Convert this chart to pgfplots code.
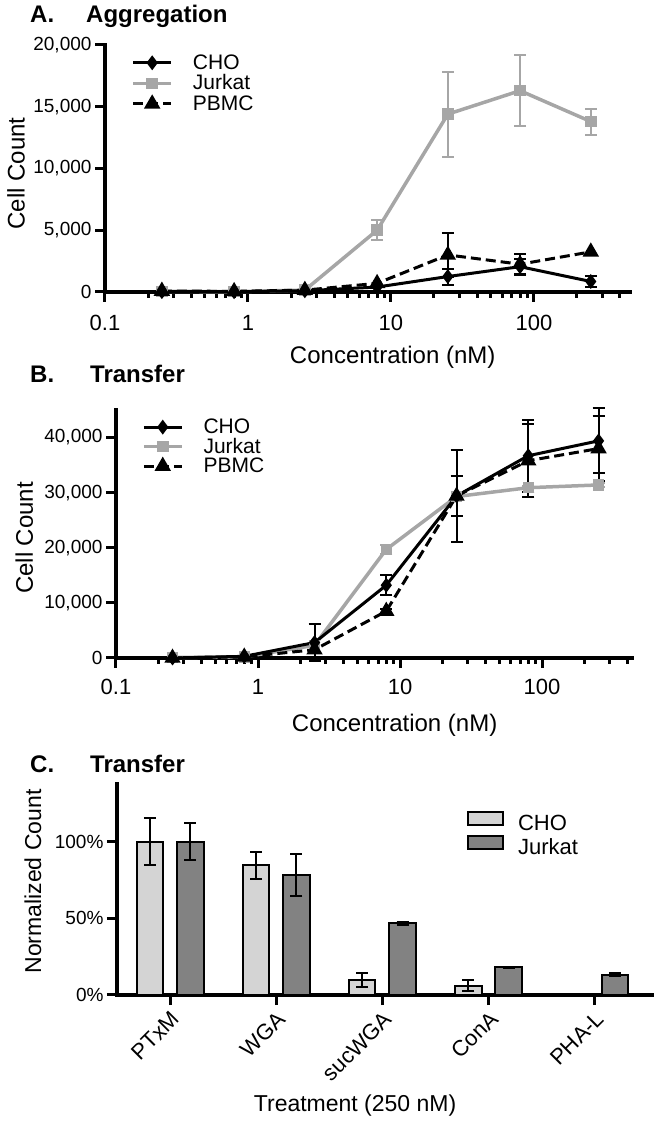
\documentclass[border=0pt]{standalone}
\usepackage{fontspec}
\setmainfont{Liberation Sans}
\usepackage{pgfplots}
\pgfplotsset{compat=1.18}
\definecolor{jgray}{HTML}{A6A6A6}
\definecolor{lgray}{HTML}{D4D4D4}
\definecolor{dgray}{HTML}{828282}

\pgfplotsset{
  cho/.style={black, line width=3pt, mark=diamond*, mark size=5pt, mark options={solid}},
  jur/.style={jgray, line width=3.5pt, mark=square*, mark size=4pt, mark options={solid}},
  pbmc/.style={black, line width=3pt, dash pattern=on 10pt off 5pt, mark=triangle*, mark size=6.5pt, mark options={solid}},
  boxlegend/.style={legend image code/.code={\draw[##1, line width=2pt] (0pt,-1pt) rectangle (35pt,12pt);}},
}

\begin{document}
\begin{tikzpicture}
\path[use as bounding box] (0pt,0pt) rectangle (658pt,1124pt);

% ---------------- Panel A ----------------
\begin{axis}[
  scale only axis, axis lines=left,
  axis line style={-, line width=3.5pt, line cap=rect},
  tick align=outside, major tick length=10pt, minor tick length=6pt,
  every tick/.style={black, line width=3pt}, clip=false,
  xmode=log, scaled y ticks=false,
  at={(105pt,832pt)}, anchor=south west, width=525pt, height=247pt,
  xmin=0.1, xmax=470, ymin=0, ymax=20000,
  xtick={0.1,1,10,100}, xticklabels={0.1,1,10,100},
  minor xtick={0.2,0.3,0.4,0.5,0.6,0.7,0.8,0.9,2,3,4,5,6,7,8,9,20,30,40,50,60,70,80,90,200,300,400},
  xticklabel style={font=\fontsize{22}{22}\selectfont, yshift=-10pt},
  yticklabel style={font=\fontsize{19}{19}\selectfont},
  ytick={0,5000,10000,15000,20000},
  yticklabels={0,{5,000},{10,000},{15,000},{20,000}},
  xlabel={Concentration (nM)},
  xlabel style={at={(axis description cs:0.548,-0.288)}, anchor=base, font=\fontsize{24}{24}\selectfont},
  ylabel={Cell Count},
  ylabel style={at={(axis description cs:-0.153,0.48)}, anchor=base, font=\fontsize{24}{24}\selectfont},
  legend image code/.code={\draw[mark repeat=2,mark phase=2,#1] plot coordinates {(0pt,0pt) (19pt,0pt) (38pt,0pt)};},
  legend cell align=left,
  legend style={at={(axis description cs:0.05,0.955)}, anchor=north west,
    draw=none, fill=none, inner sep=0pt, row sep=7.5pt, column sep=20pt,
    font=\fontsize{21}{21}\selectfont,
    nodes={inner sep=0pt, text height=13pt, text depth=0pt}},
]
\addlegendimage{cho}\addlegendentry{CHO}
\addlegendimage{jur}\addlegendentry{Jurkat}
\addlegendimage{pbmc}\addlegendentry{PBMC}
% Jurkat
\addplot[jur, forget plot] table[x index=0, y index=1] {
0.25 50
0.8 30
2.5 150
8 5000
25 14400
80 16300
250 13800
};
\addplot[only marks, mark=none, forget plot, jgray,
  error bars/.cd, y dir=both, y explicit,
  error bar style={line width=2pt, solid, jgray},
  error mark options={rotate=90, mark size=6pt, line width=2pt, solid, jgray}]
  table[x index=0, y index=1, y error index=2] {
8 5000 800
25 14400 3450
80 16300 2850
250 13800 1050
};
% CHO
\addplot[cho, forget plot] table[x index=0, y index=1] {
0.25 30
0.8 20
2.5 100
8 400
25 1250
80 2050
250 850
};
\addplot[only marks, mark=none, forget plot, black,
  error bars/.cd, y dir=both, y explicit,
  error bar style={line width=2pt, solid, black},
  error mark options={rotate=90, mark size=6pt, line width=2pt, solid, black}]
  table[x index=0, y index=1, y error index=2] {
25 1250 650
80 2050 650
250 850 450
};
% PBMC
\addplot[pbmc, forget plot] table[x index=0, y index=1] {
0.25 80
0.8 50
2.5 150
8 700
25 3000
80 2250
250 3250
};
\addplot[only marks, mark=none, forget plot, black,
  error bars/.cd, y dir=both, y explicit,
  error bar style={line width=2pt, solid, black},
  error mark options={rotate=90, mark size=6pt, line width=2pt, solid, black}]
  table[x index=0, y index=1, y error index=2] {
25 3000 1800
80 2250 800
};
\end{axis}
\node[anchor=base west, inner sep=0pt, font=\bfseries\fontsize{24}{24}\selectfont] at (30pt,1101pt) {A.};
\node[anchor=base west, inner sep=0pt, font=\bfseries\fontsize{24}{24}\selectfont] at (86pt,1101pt) {Aggregation};

% ---------------- Panel B ----------------
\begin{axis}[
  scale only axis, axis lines=left,
  axis line style={-, line width=3.5pt, line cap=rect},
  tick align=outside, major tick length=10pt, minor tick length=6pt,
  every tick/.style={black, line width=3pt}, clip=false,
  xmode=log, scaled y ticks=false,
  at={(116pt,466pt)}, anchor=south west, width=516pt, height=248pt,
  xmin=0.1, xmax=430, ymin=0, ymax=45000,
  xtick={0.1,1,10,100}, xticklabels={0.1,1,10,100},
  minor xtick={0.2,0.3,0.4,0.5,0.6,0.7,0.8,0.9,2,3,4,5,6,7,8,9,20,30,40,50,60,70,80,90,200,300,400},
  xticklabel style={font=\fontsize{22}{22}\selectfont, yshift=-8pt},
  yticklabel style={font=\fontsize{19}{19}\selectfont},
  ytick={0,10000,20000,30000,40000},
  yticklabels={0,{10,000},{20,000},{30,000},{40,000}},
  xlabel={Concentration (nM)},
  xlabel style={at={(axis description cs:0.54,-0.295)}, anchor=base, font=\fontsize{24}{24}\selectfont},
  ylabel={Cell Count},
  ylabel style={at={(axis description cs:-0.161,0.484)}, anchor=base, font=\fontsize{24}{24}\selectfont},
  legend image code/.code={\draw[mark repeat=2,mark phase=2,#1] plot coordinates {(0pt,0pt) (19pt,0pt) (38pt,0pt)};},
  legend cell align=left,
  legend style={at={(axis description cs:0.05,0.958)}, anchor=north west,
    draw=none, fill=none, inner sep=0pt, row sep=6.5pt, column sep=20pt,
    font=\fontsize{21}{21}\selectfont,
    nodes={inner sep=0pt, text height=13pt, text depth=0pt}},
]
\addlegendimage{cho}\addlegendentry{CHO}
\addlegendimage{jur}\addlegendentry{Jurkat}
\addlegendimage{pbmc}\addlegendentry{PBMC}
% Jurkat
\addplot[jur, forget plot] table[x index=0, y index=1] {
0.25 100
0.8 200
2.5 2300
8 19700
25 29300
80 30900
250 31400
};
\addplot[only marks, mark=none, forget plot, jgray,
  error bars/.cd, y dir=both, y explicit,
  error bar style={line width=2pt, solid, jgray},
  error mark options={rotate=90, mark size=6pt, line width=2pt, solid, jgray}]
  table[x index=0, y index=1, y error index=2] {
8 19700 800
80 30900 300
250 31400 300
};
% CHO
\addplot[cho, forget plot] table[x index=0, y index=1] {
0.25 0
0.8 300
2.5 2800
8 13200
25 29400
80 36700
250 39400
};
\addplot[only marks, mark=none, forget plot, black,
  error bars/.cd, y dir=both, y explicit,
  error bar style={line width=2pt, solid, black},
  error mark options={rotate=90, mark size=6pt, line width=2pt, solid, black}]
  table[x index=0, y index=1, y error index=2] {
2.5 2800 3300
8 13200 1850
25 29400 3700
80 36700 6500
250 39400 5900
};
% PBMC
\addplot[pbmc, forget plot] table[x index=0, y index=1] {
0.25 0
0.8 200
2.5 1500
8 8500
25 29400
80 35800
250 38000
};
\addplot[only marks, mark=none, forget plot, black,
  error bars/.cd, y dir=both, y explicit,
  error bar style={line width=2pt, solid, black},
  error mark options={rotate=90, mark size=6pt, line width=2pt, solid, black}]
  table[x index=0, y index=1, y error index=2] {
8 8500 400
25 29400 8300
80 35800 6600
250 38000 5900
};
\end{axis}
\node[anchor=base west, inner sep=0pt, font=\bfseries\fontsize{24}{24}\selectfont] at (30pt,741pt) {B.};
\node[anchor=base west, inner sep=0pt, font=\bfseries\fontsize{24}{24}\selectfont] at (90pt,741pt) {Transfer};

% ---------------- Panel C ----------------
\begin{axis}[
  scale only axis, axis lines=left,
  axis line style={-, line width=3.5pt, line cap=rect},
  tick align=outside, major tick length=10pt,
  every tick/.style={black, line width=3pt}, clip=false,
  at={(117pt,129pt)}, anchor=south west, width=535pt, height=211pt,
  xmin=-0.5, xmax=4.54, ymin=0, ymax=137.5,
  xtick={0,1,2,3,4}, xticklabels={PTxM,WGA,sucWGA,ConA,PHA-L},
  ytick={0,50,100}, yticklabels={0\%,50\%,100\%},
  xticklabel style={rotate=45, anchor=north east, font=\fontsize{22}{22}\selectfont},
  yticklabel style={font=\fontsize{19}{19}\selectfont},
  xlabel={Treatment (250 nM)},
  xlabel style={at={(axis description cs:0.445,-0.552)}, anchor=base, font=\fontsize{23}{23}\selectfont},
  ylabel={Normalized Count},
  ylabel style={at={(axis description cs:-0.142,0.538)}, anchor=base, font=\fontsize{23}{23}\selectfont},
  legend cell align=left,
  legend style={at={(axis description cs:0.654,0.874)}, anchor=north west,
    draw=none, fill=none, inner sep=0pt, row sep=4pt, column sep=14pt,
    font=\fontsize{22}{22}\selectfont,
    nodes={inner sep=0pt, text height=14pt, text depth=1pt}},
]
\addplot[ybar, bar width=0.25, bar shift=0pt, fill=lgray, draw=black, line width=2pt, boxlegend,
  error bars/.cd, y dir=both, y explicit, error bar style={line width=2pt, black},
  error mark options={rotate=90, mark size=6pt, line width=2pt, black}]
  table[x index=0, y index=1, y error index=2] {
-0.19 100 15.4
0.81 84.4 8.7
1.81 10 4.5
2.81 6 3.5
3.81 0.5 0
};
\addlegendentry{CHO}
\addplot[ybar, bar width=0.25, bar shift=0pt, fill=dgray, draw=black, line width=2pt, boxlegend,
  error bars/.cd, y dir=both, y explicit, error bar style={line width=2pt, black},
  error mark options={rotate=90, mark size=6pt, line width=2pt, black}]
  table[x index=0, y index=1, y error index=2] {
0.19 100 12.3
1.19 78 13.7
2.19 46.8 1
3.19 18 0.5
4.19 13.2 1
};
\addlegendentry{Jurkat}
\end{axis}
\node[anchor=base west, inner sep=0pt, font=\bfseries\fontsize{24}{24}\selectfont] at (30pt,351pt) {C.};
\node[anchor=base west, inner sep=0pt, font=\bfseries\fontsize{24}{24}\selectfont] at (90pt,351pt) {Transfer};
\end{tikzpicture}
\end{document}
